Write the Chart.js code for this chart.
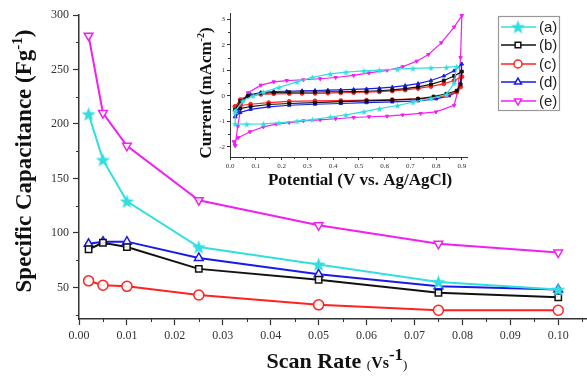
<!DOCTYPE html>
<html>
<head>
<meta charset="utf-8">
<script src="https://cdn.jsdelivr.net/npm/chart.js@4.4.0/dist/chart.umd.min.js"></script>
<style>
html, body { margin: 0; padding: 0; background: #fff; }
#wrap { position: relative; width: 587px; height: 378px; }
#main { position: absolute; left: 0; top: 0; }
#inset { position: absolute; left: 190px; top: 0; }
</style>
</head>
<body>
<div id="wrap">
  <canvas id="main" width="587" height="378"></canvas>
  <canvas id="inset" width="280" height="195"></canvas>
</div>
<script>
// Main chart data: specific capacitance vs scan rate
const scanRates = [0.002, 0.005, 0.01, 0.025, 0.05, 0.075, 0.1];
const capA = [209, 167, 129, 87, 71, 55, 48];
const capB = [85, 91, 87, 67, 57, 45, 41];
const capC = [56, 52, 51, 43, 34, 29, 29];
const capD = [90, 92, 92, 77, 62, 51, 48];
const capE = [281, 210, 180, 130, 107, 90, 82];
const seriesLabels = ['(a)', '(b)', '(c)', '(d)', '(e)'];
const xTicks = [0, 0.01, 0.02, 0.03, 0.04, 0.05, 0.06, 0.07, 0.08, 0.09, 0.10];
const yTicks = [50, 100, 150, 200, 250, 300];

// Inset data: CV loops [potential, current]
const cvA = [[0.02,-0.6],[0.05,-0.2],[0.09,0.0],[0.13,0.15],[0.19,0.33],[0.26,0.55],[0.32,0.73],[0.39,0.86],[0.45,0.93],[0.52,0.98],[0.58,1.01],[0.65,1.05],[0.71,1.08],[0.78,1.1],[0.84,1.12],[0.88,1.15],
  [0.87,0.5],[0.84,0.05],[0.78,-0.1],[0.71,-0.25],[0.65,-0.38],[0.58,-0.5],[0.52,-0.62],[0.45,-0.75],[0.39,-0.83],[0.32,-0.93],[0.26,-0.99],[0.19,-1.06],[0.13,-1.1],[0.065,-1.11],[0.02,-1.1],[0.02,-0.6]];
const cvB = [[0.02,-0.55],[0.04,-0.2],[0.07,0.0],[0.12,0.1],[0.17,0.13],[0.23,0.14],[0.28,0.15],[0.33,0.15],[0.38,0.16],[0.43,0.16],[0.48,0.17],[0.53,0.18],[0.58,0.2],[0.63,0.23],[0.68,0.28],[0.73,0.35],[0.78,0.45],[0.83,0.6],[0.87,0.78],[0.9,0.95],
  [0.895,0.45],[0.88,0.2],[0.84,0.08],[0.79,-0.03],[0.73,-0.12],[0.63,-0.17],[0.53,-0.2],[0.43,-0.23],[0.33,-0.27],[0.23,-0.3],[0.15,-0.34],[0.08,-0.42],[0.04,-0.5],[0.02,-0.55]];
const cvC = [[0.02,-0.42],[0.04,-0.15],[0.07,0.0],[0.12,0.06],[0.17,0.08],[0.23,0.09],[0.28,0.1],[0.33,0.1],[0.38,0.11],[0.43,0.12],[0.48,0.13],[0.53,0.14],[0.58,0.16],[0.63,0.19],[0.68,0.23],[0.73,0.29],[0.78,0.37],[0.83,0.47],[0.87,0.6],[0.9,0.75],
  [0.895,0.35],[0.88,0.15],[0.84,0.02],[0.79,-0.07],[0.73,-0.12],[0.63,-0.15],[0.53,-0.17],[0.43,-0.19],[0.33,-0.2],[0.23,-0.22],[0.15,-0.27],[0.08,-0.33],[0.04,-0.38],[0.02,-0.42]];
const cvD = [[0.02,-0.82],[0.03,-0.6],[0.05,-0.15],[0.08,0.05],[0.12,0.13],[0.17,0.17],[0.22,0.18],[0.28,0.2],[0.33,0.21],[0.38,0.22],[0.43,0.23],[0.48,0.25],[0.53,0.27],[0.58,0.3],[0.63,0.34],[0.68,0.4],[0.73,0.48],[0.78,0.6],[0.83,0.78],[0.87,0.98],[0.9,1.25],
  [0.895,0.5],[0.88,0.15],[0.85,0.0],[0.8,-0.12],[0.73,-0.2],[0.63,-0.24],[0.53,-0.27],[0.43,-0.3],[0.33,-0.33],[0.23,-0.37],[0.15,-0.43],[0.08,-0.53],[0.04,-0.65],[0.02,-0.82]];
const cvE = [[0.02,-1.95],[0.03,-1.2],[0.045,-0.3],[0.07,0.12],[0.12,0.42],[0.17,0.55],[0.22,0.6],[0.285,0.63],[0.35,0.67],[0.41,0.72],[0.48,0.8],[0.54,0.9],[0.61,1.0],[0.67,1.14],[0.725,1.36],[0.77,1.62],[0.82,2.08],[0.87,2.7],[0.9,3.15],
  [0.895,1.5],[0.885,0.2],[0.87,-0.37],[0.8,-0.63],[0.74,-0.69],[0.67,-0.75],[0.61,-0.8],[0.54,-0.82],[0.48,-0.85],[0.41,-0.9],[0.35,-0.94],[0.285,-0.98],[0.23,-1.05],[0.18,-1.11],[0.13,-1.22],[0.078,-1.41],[0.032,-1.64],[0.015,-1.8],[0.02,-1.95]];
const insetXTicks = [0, 0.1, 0.2, 0.3, 0.4, 0.5, 0.6, 0.7, 0.8, 0.9];
const insetYTicks = [-2, -1, 0, 1, 2, 3];

const colors = ['#33DEDE', '#111111', '#FF2222', '#1A1AE6', '#F020F0'];
const AXIS = '#333';

// filled star used as point style for series (a)
function makeStar(size, color) {
    const c = document.createElement('canvas');
    c.width = c.height = size;
    const g = c.getContext('2d');
    g.fillStyle = color;
    g.beginPath();
    for (let i = 0; i < 10; i++) {
        const r = i % 2 ? size * 0.21 : size * 0.5;
        const a = -Math.PI / 2 + i * Math.PI / 5;
        const px = size / 2 + r * Math.cos(a);
        const py = size / 2 + 0.5 + r * Math.sin(a);
        if (i === 0) g.moveTo(px, py); else g.lineTo(px, py);
    }
    g.closePath();
    g.fill();
    return c;
}

// draw a line of text made of parts with different fonts, centred at cx
function drawRich(ctx, parts, cx, baseY) {
    let total = 0;
    parts.forEach(p => { ctx.font = p.font; total += ctx.measureText(p.t).width; });
    let x = cx - total / 2;
    ctx.textAlign = 'left';
    ctx.textBaseline = 'alphabetic';
    parts.forEach(p => {
        ctx.font = p.font;
        ctx.fillText(p.t, x, baseY + (p.dy || 0));
        x += ctx.measureText(p.t).width;
    });
}

// short outward minor ticks
function minorTicks(chart, xStep, yStep, len) {
    const ctx = chart.ctx;
    const xs = chart.scales.x, ys = chart.scales.y;
    ctx.save();
    ctx.strokeStyle = AXIS;
    ctx.lineWidth = 1;
    ctx.beginPath();
    for (let v = xs.min + xStep; v <= xs.max; v += xStep * 2) {
        const px = Math.round(xs.getPixelForValue(v)) + 0.5;
        ctx.moveTo(px, xs.top);
        ctx.lineTo(px, xs.top + len);
    }
    const y0 = Math.ceil(ys.min / yStep) * yStep;
    for (let v = y0; v <= ys.max; v += yStep) {
        if (Math.abs(v / (yStep * 2) - Math.round(v / (yStep * 2))) < 1e-6) continue;
        const py = Math.round(ys.getPixelForValue(v)) + 0.5;
        ctx.moveTo(ys.right, py);
        ctx.lineTo(ys.right - len, py);
    }
    ctx.stroke();
    ctx.restore();
}

const mainStyles = [
    { pointStyle: makeStar(15, colors[0]), rotation: 0 },
    { pointStyle: 'rect', rotation: 0 },
    { pointStyle: 'circle', rotation: 0 },
    { pointStyle: 'triangle', rotation: 0 },
    { pointStyle: 'triangle', rotation: 180 }
];
const mainSeries = [capA, capB, capC, capD, capE];

const mainDatasets = mainSeries.map((vals, i) => ({
    label: seriesLabels[i],
    data: scanRates.map((x, j) => ({ x: x, y: vals[j] })),
    borderColor: colors[i],
    backgroundColor: '#fff',
    borderWidth: 2,
    pointStyle: mainStyles[i].pointStyle,
    rotation: mainStyles[i].rotation,
    pointRadius: i === 1 ? 4.5 : 5,
    pointBorderWidth: 1.5,
    pointBackgroundColor: 'rgba(255,255,255,0.9)',
    tension: 0
}));

const mainDecor = {
    id: 'mainDecor',
    afterDraw(chart) {
        const ctx = chart.ctx;
        minorTicks(chart, 0.005, 25, 3);
        ctx.save();
        ctx.fillStyle = '#111';
        // y title
        ctx.save();
        ctx.translate(31, 161);
        ctx.rotate(-Math.PI / 2);
        drawRich(ctx, [
            { t: 'Specific Capacitance (Fg', font: 'bold 23px "Liberation Serif"' },
            { t: '-1', font: 'bold 15px "Liberation Serif"', dy: -9 },
            { t: ')', font: 'bold 23px "Liberation Serif"' }
        ], 0, 0);
        ctx.restore();
        // x title
        drawRich(ctx, [
            { t: 'Scan Rate ', font: 'bold 22px "Liberation Serif"' },
            { t: '(', font: '13px "Liberation Serif"', dy: 1 },
            { t: 'Vs', font: 'bold 16px "Liberation Serif"' },
            { t: '-1', font: 'bold 17px "Liberation Serif"', dy: -8 },
            { t: ')', font: '13px "Liberation Serif"', dy: 1 }
        ], 337, 368);
        // legend
        ctx.strokeStyle = '#999';
        ctx.lineWidth = 1.2;
        ctx.strokeRect(498.5, 16.5, 61, 94);
        const rows = [27, 45, 64, 82, 101];
        chart.data.datasets.forEach((ds, i) => {
            const y = rows[i];
            ctx.strokeStyle = ds.borderColor;
            ctx.lineWidth = 1.5;
            ctx.beginPath();
            ctx.moveTo(501, y);
            ctx.lineTo(536, y);
            ctx.stroke();
            ctx.fillStyle = '#fff';
            Chart.helpers.drawPoint(ctx, {
                pointStyle: ds.pointStyle, rotation: ds.rotation,
                radius: 4, borderWidth: 1.5
            }, 518, y);
            ctx.fillStyle = '#222';
            ctx.font = '15px "Liberation Sans"';
            ctx.textAlign = 'left';
            ctx.textBaseline = 'middle';
            ctx.fillText(ds.label, 539, y + 1);
        });
        ctx.restore();
    }
};

new Chart(document.getElementById('main'), {
    type: 'line',
    data: { datasets: mainDatasets },
    options: {
        responsive: false,
        animation: false,
        layout: { autoPadding: false, padding: { top: 15, right: 0, left: 0, bottom: 0 } },
        plugins: { legend: { display: false }, tooltip: { enabled: false } },
        scales: {
            x: {
                type: 'linear', min: 0, max: 0.106,
                afterBuildTicks: s => { s.ticks = xTicks.map(v => ({ value: v })); },
                afterFit: s => { s.height = 59; },
                ticks: {
                    callback: v => v.toFixed(2), color: AXIS, autoSkip: false, maxRotation: 0,
                    padding: 4, font: { family: 'Liberation Serif', size: 12 }
                },
                grid: { drawOnChartArea: false, tickLength: 6, color: AXIS, tickWidth: 1.2 },
                border: { color: AXIS, width: 1.5 }
            },
            y: {
                type: 'linear', min: 21, max: 300,
                afterBuildTicks: s => { s.ticks = yTicks.map(v => ({ value: v })); },
                afterFit: s => { s.width = 79; },
                ticks: {
                    color: AXIS, padding: 4,
                    font: { family: 'Liberation Serif', size: 12 }
                },
                grid: { drawOnChartArea: false, tickLength: 6, color: AXIS, tickWidth: 1.2 },
                border: { color: AXIS, width: 1.5 }
            }
        }
    },
    plugins: [mainDecor]
});

// Inset CV chart
const insetStyles = [
    { pointStyle: makeStar(7, colors[0]), rotation: 0 },
    { pointStyle: 'rect', rotation: 0 },
    { pointStyle: 'circle', rotation: 0 },
    { pointStyle: 'triangle', rotation: 0 },
    { pointStyle: 'triangle', rotation: 180 }
];
const cvSeries = [cvA, cvB, cvC, cvD, cvE];

const insetDatasets = cvSeries.map((pts, i) => ({
    label: seriesLabels[i],
    data: pts.map(p => ({ x: p[0], y: p[1] })),
    showLine: true,
    borderColor: colors[i],
    backgroundColor: colors[i],
    borderWidth: 1.2,
    pointStyle: insetStyles[i].pointStyle,
    rotation: insetStyles[i].rotation,
    pointRadius: 2,
    pointBorderWidth: 1,
    tension: 0
}));

const insetDecor = {
    id: 'insetDecor',
    afterDraw(chart) {
        const ctx = chart.ctx;
        minorTicks(chart, 0.05, 0.5, 2);
        ctx.save();
        ctx.fillStyle = '#111';
        ctx.save();
        ctx.translate(21, 93);
        ctx.rotate(-Math.PI / 2);
        drawRich(ctx, [
            { t: 'Current (mAcm', font: 'bold 17px "Liberation Serif"' },
            { t: '-2', font: 'bold 10px "Liberation Serif"', dy: -7 },
            { t: ')', font: 'bold 17px "Liberation Serif"' }
        ], 0, 0);
        ctx.restore();
        drawRich(ctx, [
            { t: 'Potential (V vs. Ag/AgCl)', font: 'bold 17px "Liberation Serif"' }
        ], 170, 185);
        ctx.restore();
    }
};

new Chart(document.getElementById('inset'), {
    type: 'scatter',
    data: { datasets: insetDatasets },
    options: {
        responsive: false,
        animation: false,
        layout: { autoPadding: false, padding: { top: 13, right: 3, left: 0, bottom: 0 } },
        plugins: { legend: { display: false }, tooltip: { enabled: false } },
        scales: {
            x: {
                type: 'linear', min: 0, max: 0.92,
                afterBuildTicks: s => { s.ticks = insetXTicks.map(v => ({ value: v })); },
                afterFit: s => { s.height = 38; },
                ticks: {
                    callback: v => v.toFixed(1), color: AXIS, autoSkip: false, maxRotation: 0,
                    padding: 2, font: { family: 'Liberation Serif', size: 7 }
                },
                grid: { drawOnChartArea: false, tickLength: 3, color: AXIS },
                border: { color: AXIS, width: 1 }
            },
            y: {
                type: 'linear', min: -2.4, max: 3.25,
                afterBuildTicks: s => { s.ticks = insetYTicks.map(v => ({ value: v })); },
                afterFit: s => { s.width = 40; },
                ticks: {
                    color: AXIS, padding: 2,
                    font: { family: 'Liberation Serif', size: 7 }
                },
                grid: { drawOnChartArea: false, tickLength: 3, color: AXIS },
                border: { color: AXIS, width: 1 }
            }
        }
    },
    plugins: [insetDecor]
});
</script>
</body>
</html>
